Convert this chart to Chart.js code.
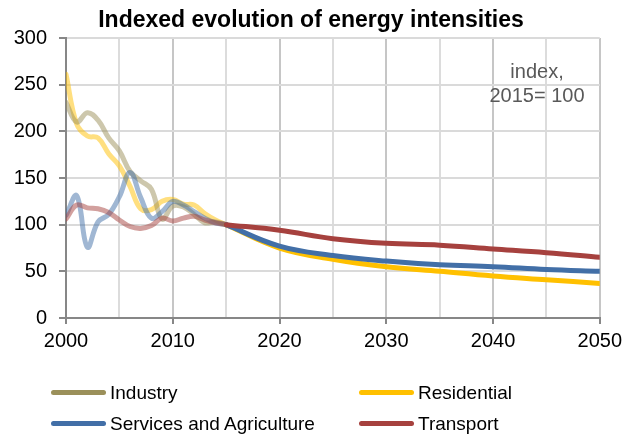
<!DOCTYPE html>
<html><head><meta charset="utf-8">
<script src="https://cdn.jsdelivr.net/npm/chart.js@4.4.1/dist/chart.umd.min.js"></script>
<style>
html,body{margin:0;padding:0;background:#fff;}
#wrap{position:relative;width:627px;height:437px;font-family:"Liberation Sans",Arial,sans-serif;color:#000;overflow:hidden;}
#c{position:absolute;left:0;top:0;}
.t{position:absolute;white-space:nowrap;}
.sw{position:absolute;height:5px;border-radius:3px;}
</style></head><body>
<div id="wrap">
<canvas id="c" width="627" height="437"></canvas>
<div class="t" style="left:0;width:622px;text-align:center;top:8px;font-weight:bold;font-size:23px;line-height:23px;">Indexed evolution of energy intensities</div>
<div class="t" style="left:437px;width:200px;text-align:center;top:59px;font-size:20px;line-height:24px;color:#595959;">index,<br>2015= 100</div>
<div id="legend"></div>
</div>
<script>
// ---- data ----
const histYears = [2000,2001,2002,2003,2004,2005,2006,2007,2008,2009,2010,2011,2012,2013,2014,2015];
const industryHist    = [231,210,220,212,193,179,157,147,138,106,120,119,111,102,103,100];
const residentialHist = [261,208,195,193,176,163,141,117,116,125,127,122,121,112,105,100];
const servicesHist    = [110,131,76,103,111,130,156,129,107,114,125,121,114,107,102,100];
const transportHist   = [106,121,118,117,113,105,98,96,99,107,104,107,109,105,102,100];

const projYears = [2015,2020,2025,2030,2035,2040,2045,2050];
const residentialProj = [100,75,63,55,50,45,41,37];
const servicesProj    = [100,77,67,61,57,55,52,50];
const transportProj   = [100,94,85,80,78,74,70,65];

const xTickLabels = [2000,2010,2020,2030,2040,2050];
const yTickLabels = [0,50,100,150,200,250,300];

const seriesNames = ['Industry','Residential','Services and Agriculture','Transport'];
const seriesColors = ['rgb(155,144,90)','rgb(255,192,0)','rgb(66,111,167)','rgb(166,65,62)'];
const fadedColors  = ['rgba(155,144,90,0.5)','rgba(255,192,0,0.5)','rgba(66,111,167,0.5)','rgba(166,65,62,0.5)'];

// ---- helpers ----
const pts = (xs, ys) => xs.map((x, i) => ({x: x, y: ys[i]}));
const line = (data, color) => ({data: data, borderColor: color, backgroundColor: color, fill: false});

const datasets = [
  line(pts(projYears, transportProj), seriesColors[3]),
  line(pts(projYears, servicesProj), seriesColors[2]),
  line(pts(projYears, residentialProj), seriesColors[1]),
  line(pts(histYears, transportHist), fadedColors[3]),
  line(pts(histYears, servicesHist), fadedColors[2]),
  line(pts(histYears, industryHist), fadedColors[0]),
  line(pts(histYears, residentialHist), fadedColors[1])
];

new Chart(document.getElementById('c'), {
  type: 'line',
  data: {datasets: datasets},
  options: {
    responsive: false,
    animation: false,
    layout: {padding: {left: 0, top: 38, right: 25, bottom: 79}},
    plugins: {legend: {display: false}, title: {display: false}, tooltip: {enabled: false}},
    elements: {
      point: {radius: 0, hoverRadius: 0},
      line: {borderWidth: 5, tension: 0.4, borderCapStyle: 'round', borderJoinStyle: 'round'}
    },
    scales: {
      x: {
        type: 'linear', min: 2000, max: 2050,
        afterBuildTicks: s => { s.ticks = [2000,2005,2010,2015,2020,2025,2030,2035,2040,2045,2050].map(v => ({value: v})); },
        ticks: {
          autoSkip: false, maxRotation: 0, padding: 5, color: '#000',
          font: {size: 20, family: '"Liberation Sans", Arial, sans-serif'},
          callback: v => xTickLabels.includes(v) ? String(v) : ''
        },
        grid: {
          color: c => (c.tick && c.tick.value % 10 === 0) ? '#c6c6c6' : '#dcdcdc',
          tickColor: c => (c.tick && c.tick.value % 10 === 0) ? '#878787' : 'rgba(0,0,0,0)',
          lineWidth: 2, tickLength: 6
        },
        border: {color: '#878787', width: 2},
        afterFit: s => { s.height = 40; }
      },
      y: {
        min: 0, max: 300,
        afterBuildTicks: s => { s.ticks = yTickLabels.map(v => ({value: v})); },
        ticks: {
          padding: 12, color: '#000',
          font: {size: 20, family: '"Liberation Sans", Arial, sans-serif'},
          callback: v => String(v)
        },
        grid: {color: '#dadada', lineWidth: 2, tickLength: 7, tickColor: '#878787'},
        border: {color: '#878787', width: 2},
        afterFit: s => { s.width = 66; }
      }
    }
  }
});

// ---- legend (HTML) ----
const legendPos = [[51,392],[359,392],[51,423],[359,423]];
const leg = document.getElementById('legend');
seriesNames.forEach((name, i) => {
  const [x, y] = legendPos[i];
  const sw = document.createElement('div');
  sw.className = 'sw';
  sw.style.left = x + 'px'; sw.style.top = (y - 2.5) + 'px'; sw.style.width = '55px';
  sw.style.background = seriesColors[i];
  leg.appendChild(sw);
  const t = document.createElement('div');
  t.className = 't';
  t.style.left = (x + 59) + 'px'; t.style.top = (y - 9.5) + 'px';
  t.style.fontSize = '19px'; t.style.lineHeight = '19px';
  t.textContent = name;
  leg.appendChild(t);
});
</script>
</body></html>
